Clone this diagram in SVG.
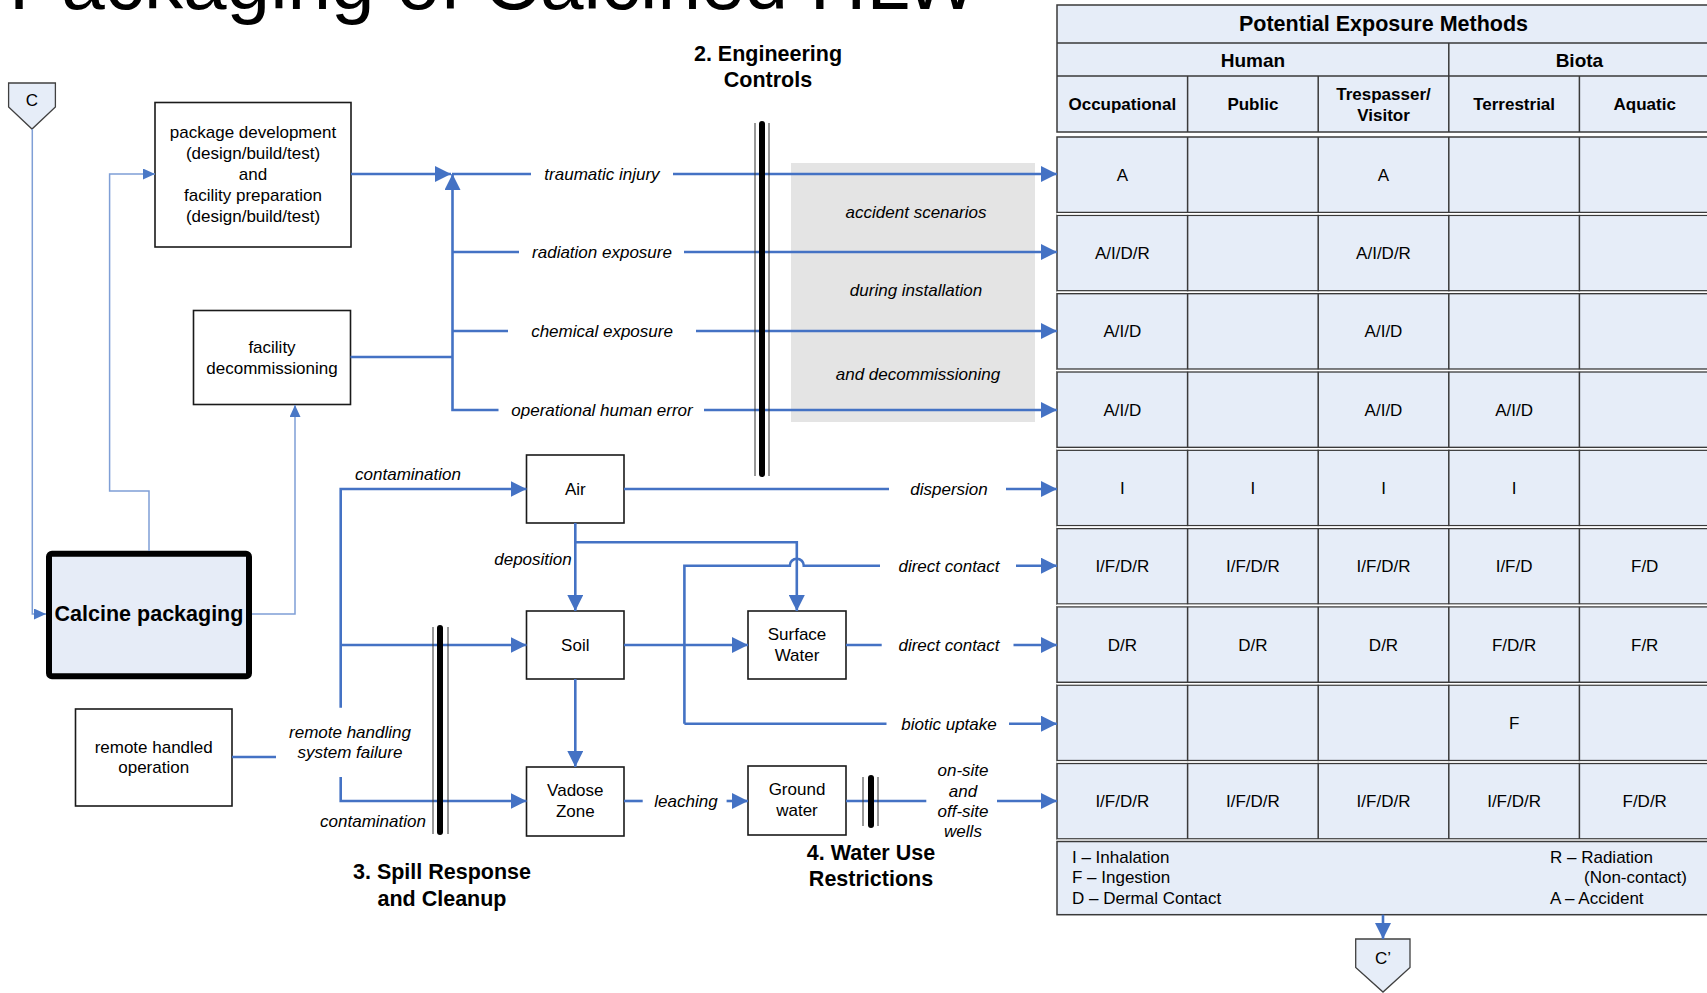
<svg xmlns="http://www.w3.org/2000/svg" width="1707" height="993" viewBox="0 0 1707 993">
  <style>
    text { font-family: "Liberation Sans", Arial, sans-serif; fill: #000; }
    .t { font-size: 17px; text-anchor: middle; }
    .i { font-style: italic; }
    .b { font-weight: bold; }
    .h { font-size: 21.5px; font-weight: bold; text-anchor: middle; }
    .box { fill: #fff; stroke: #1a1a1a; stroke-width: 1.6; }
    .cell { fill: #E6EDF8; stroke: #3a3a3a; stroke-width: 1.5; }
    .grid { fill: none; stroke: #3a3a3a; stroke-width: 1.5; }
    .flow { fill: none; stroke: #4472C4; stroke-width: 2.6; }
    .feed { fill: none; stroke: #7F9FD6; stroke-width: 1.5; }
    .bar { stroke: #000; stroke-width: 6; stroke-linecap: round; }
    .rail { stroke: #333; stroke-width: 1; }
    .conn { fill: #E6EDF8; stroke: #404040; stroke-width: 1.3; }
  </style>
  <defs>
    <marker id="ah" viewBox="0 0 16 16" refX="16" refY="8" markerWidth="16" markerHeight="16" markerUnits="userSpaceOnUse" orient="auto">
      <path d="M0,0L16,8L0,16z" fill="#4472C4"/>
    </marker>
    <marker id="ahs" viewBox="0 0 12 11" refX="12" refY="5.5" markerWidth="12" markerHeight="11" markerUnits="userSpaceOnUse" orient="auto">
      <path d="M0,0L12,5.5L0,11z" fill="#4A78C6"/>
    </marker>
  </defs>

  <rect width="1707" height="993" fill="#fff"/>

  <!-- page title, clipped by the top edge -->
  <text x="9" y="9" font-size="78.3">Packaging of Calcined HLW</text>

  <!-- shaded band for accident scenarios -->
  <rect x="791" y="163" width="244" height="259" fill="#E4E4E4"/>

  <!-- exposure table -->
  <g id="exposure-table">
    <rect class="cell" x="1057" y="5" width="653" height="127"/>
    <path class="grid" d="M1057 43H1710M1057 76H1710M1448.8 43V132M1187.6 76V132M1318.2 76V132M1579.4 76V132"/>
    <text class="h" x="1383.5" y="31">Potential Exposure Methods</text>
    <text class="b" font-size="19" text-anchor="middle" x="1253" y="66.5">Human</text>
    <text class="b" font-size="19" text-anchor="middle" x="1579.4" y="66.5">Biota</text>
    <g class="t b">
      <text x="1122.3" y="110">Occupational</text>
      <text x="1252.9" y="110">Public</text>
      <text x="1383.5" y="100">Trespasser/</text>
      <text x="1383.5" y="120.5">Visitor</text>
      <text x="1514.1" y="110">Terrestrial</text>
      <text x="1644.7" y="110">Aquatic</text>
    </g>

    <g id="rows">
      <rect class="cell" x="1057" y="137" width="653" height="75.5"/>
      <rect class="cell" x="1057" y="215.3" width="653" height="75.5"/>
      <rect class="cell" x="1057" y="293.6" width="653" height="75.5"/>
      <rect class="cell" x="1057" y="371.9" width="653" height="75.5"/>
      <rect class="cell" x="1057" y="450.2" width="653" height="75.5"/>
      <rect class="cell" x="1057" y="528.5" width="653" height="75.5"/>
      <rect class="cell" x="1057" y="606.8" width="653" height="75.5"/>
      <rect class="cell" x="1057" y="685.1" width="653" height="75.5"/>
      <rect class="cell" x="1057" y="763.4" width="653" height="75.5"/>
      <path class="grid" d="M1187.6 137V838.9M1318.2 137V838.9M1448.8 137V838.9M1579.4 137V838.9"/>
      <path d="M1057 213.9H1710M1057 292.2H1710M1057 370.5H1710M1057 448.8H1710M1057 527.1H1710M1057 605.4H1710M1057 683.7H1710M1057 762H1710M1057 840.2H1710" stroke="#fff" stroke-width="1.6"/>
    </g>

    <g class="t">
      <text x="1122.3" y="180.8">A</text>
      <text x="1383.5" y="180.8">A</text>

      <text x="1122.3" y="259.1">A/I/D/R</text>
      <text x="1383.5" y="259.1">A/I/D/R</text>

      <text x="1122.3" y="337.4">A/I/D</text>
      <text x="1383.5" y="337.4">A/I/D</text>

      <text x="1122.3" y="415.7">A/I/D</text>
      <text x="1383.5" y="415.7">A/I/D</text>
      <text x="1514.1" y="415.7">A/I/D</text>

      <text x="1122.3" y="494">I</text>
      <text x="1252.9" y="494">I</text>
      <text x="1383.5" y="494">I</text>
      <text x="1514.1" y="494">I</text>

      <text x="1122.3" y="572.3">I/F/D/R</text>
      <text x="1252.9" y="572.3">I/F/D/R</text>
      <text x="1383.5" y="572.3">I/F/D/R</text>
      <text x="1514.1" y="572.3">I/F/D</text>
      <text x="1644.7" y="572.3">F/D</text>

      <text x="1122.3" y="650.6">D/R</text>
      <text x="1252.9" y="650.6">D/R</text>
      <text x="1383.5" y="650.6">D/R</text>
      <text x="1514.1" y="650.6">F/D/R</text>
      <text x="1644.7" y="650.6">F/R</text>

      <text x="1514.1" y="728.9">F</text>

      <text x="1122.3" y="807.2">I/F/D/R</text>
      <text x="1252.9" y="807.2">I/F/D/R</text>
      <text x="1383.5" y="807.2">I/F/D/R</text>
      <text x="1514.1" y="807.2">I/F/D/R</text>
      <text x="1644.7" y="807.2">F/D/R</text>
    </g>

    <g id="legend">
      <rect class="cell" x="1057" y="841.5" width="653" height="73.2"/>
      <g font-size="17">
        <text x="1072" y="863">I – Inhalation</text>
        <text x="1072" y="883">F – Ingestion</text>
        <text x="1072" y="904">D – Dermal Contact</text>
        <text x="1550" y="863">R – Radiation</text>
        <text x="1584" y="883">(Non-contact)</text>
        <text x="1550" y="904">A – Accident</text>
      </g>
    </g>
  </g>

  <!-- off-page connectors -->
  <g id="node-c">
    <path class="conn" d="M8.6 83H55.4V107L32 129L8.6 107Z"/>
    <text class="t" font-size="16" x="32" y="106">C</text>
  </g>
  <g id="node-c-prime">
    <path class="conn" d="M1355.7 939H1410V967.5L1383 992L1355.7 967.5Z"/>
    <text class="t" font-size="16" x="1383" y="964">C’</text>
  </g>

  <!-- process nodes -->
  <g id="node-package-development">
    <rect class="box" x="155" y="102.5" width="196" height="144.5"/>
    <g class="t">
      <text x="253" y="138">package development</text>
      <text x="253" y="158.5">(design/build/test)</text>
      <text x="253" y="180">and</text>
      <text x="253" y="201">facility preparation</text>
      <text x="253" y="222">(design/build/test)</text>
    </g>
  </g>
  <g id="node-facility-decommissioning">
    <rect class="box" x="193.5" y="310.5" width="157" height="94"/>
    <text class="t" x="272" y="353">facility</text>
    <text class="t" x="272" y="373.5">decommissioning</text>
  </g>
  <g id="node-calcine-packaging">
    <rect x="49" y="553.7" width="200" height="122.5" rx="3" fill="#E6ECF7" stroke="#000" stroke-width="6"/>
    <text class="b" font-size="21.5" text-anchor="middle" x="149" y="621">Calcine packaging</text>
  </g>
  <g id="node-remote-handled">
    <rect class="box" x="75.5" y="709" width="156.5" height="97"/>
    <text class="t" x="153.7" y="753">remote handled</text>
    <text class="t" x="153.7" y="773">operation</text>
  </g>
  <g id="node-air">
    <rect class="box" x="526.5" y="455" width="97.5" height="68"/>
    <text class="t" x="575.3" y="495">Air</text>
  </g>
  <g id="node-soil">
    <rect class="box" x="526.5" y="611" width="97.5" height="68"/>
    <text class="t" x="575.3" y="651">Soil</text>
  </g>
  <g id="node-vadose-zone">
    <rect class="box" x="526.5" y="767" width="97.5" height="69"/>
    <text class="t" x="575.3" y="796">Vadose</text>
    <text class="t" x="575.3" y="817">Zone</text>
  </g>
  <g id="node-surface-water">
    <rect class="box" x="748" y="611" width="98" height="68"/>
    <text class="t" x="797" y="640">Surface</text>
    <text class="t" x="797" y="661">Water</text>
  </g>
  <g id="node-ground-water">
    <rect class="box" x="748" y="766" width="98" height="69"/>
    <text class="t" x="797" y="795">Ground</text>
    <text class="t" x="797" y="816">water</text>
  </g>

  <!-- connectors -->
  <g id="connectors">
    <!-- feeds around the packaging step -->
    <path class="feed" d="M32.3 129V614H46" marker-end="url(#ahs)"/>
    <path class="feed" d="M149 551V491H109.6V174H155" marker-end="url(#ahs)"/>
    <path class="feed" d="M252 614H295V405" marker-end="url(#ahs)"/>

    <!-- sources to the collector trunk -->
    <path class="flow" d="M351 174H451" marker-end="url(#ah)"/>
    <path class="flow" d="M498.5 410H452.5V174" marker-end="url(#ah)"/>
    <path class="flow" d="M452.5 252H519M452.5 331H508"/>
    <path class="flow" stroke-width="3.4" d="M350.5 357H452.5"/>

    <!-- accident pathways into the table -->
    <path class="flow" d="M452 174H531"/>
    <path class="flow" d="M673 174H1057" marker-end="url(#ah)"/>
    <path class="flow" d="M684 252H1057" marker-end="url(#ah)"/>
    <path class="flow" d="M696 331H1057" marker-end="url(#ah)"/>
    <path class="flow" d="M704 410H1057" marker-end="url(#ah)"/>

    <!-- releases from remote handling failure -->
    <path class="flow" d="M232 757H276"/>
    <path class="flow" d="M340.7 707.7V489H526.5" marker-end="url(#ah)"/>
    <path class="flow" d="M340.7 645H526.5" marker-end="url(#ah)"/>
    <path class="flow" d="M340.7 777V801H526.5" marker-end="url(#ah)"/>

    <!-- environmental transport -->
    <path class="flow" d="M624 489H889"/>
    <path class="flow" d="M1006 489H1057" marker-end="url(#ah)"/>
    <path class="flow" d="M575.3 523V611" marker-end="url(#ah)"/>
    <path class="flow" d="M575.3 542.3H796.8V611" marker-end="url(#ah)"/>
    <path class="flow" d="M684.4 723.7V565.7H789.8A7 7 0 0 1 803.8 565.7H880"/>
    <path class="flow" d="M1016 565.7H1057" marker-end="url(#ah)"/>
    <path class="flow" d="M624 645H748" marker-end="url(#ah)"/>
    <path class="flow" d="M846 645H881.7"/>
    <path class="flow" d="M1013.5 645H1057" marker-end="url(#ah)"/>
    <path class="flow" d="M684.4 723.7H886.5"/>
    <path class="flow" d="M1009 723.7H1057" marker-end="url(#ah)"/>
    <path class="flow" d="M575.3 679V767" marker-end="url(#ah)"/>
    <path class="flow" d="M624 801H642.7"/>
    <path class="flow" d="M726.6 801H748" marker-end="url(#ah)"/>
    <path class="flow" d="M846 801H926.3"/>
    <path class="flow" d="M997 801H1057" marker-end="url(#ah)"/>

    <!-- table output to next page -->
    <path class="flow" stroke-width="2.2" d="M1383 914.7V939" marker-end="url(#ah)"/>
  </g>

  <!-- control barriers -->
  <g id="barrier-engineering">
    <line class="rail" x1="755" y1="123" x2="755" y2="476"/>
    <line class="rail" x1="769" y1="123" x2="769" y2="476"/>
    <line class="bar" x1="762" y1="124" x2="762" y2="474"/>
  </g>
  <g id="barrier-spill">
    <line class="rail" x1="433" y1="627" x2="433" y2="834"/>
    <line class="rail" x1="448" y1="627" x2="448" y2="834"/>
    <line class="bar" x1="440" y1="628" x2="440" y2="832"/>
  </g>
  <g id="barrier-water-use">
    <line class="rail" x1="863" y1="777" x2="863" y2="826"/>
    <line class="rail" x1="878" y1="777" x2="878" y2="826"/>
    <line class="bar" x1="871" y1="778" x2="871" y2="825"/>
  </g>

  <!-- connector labels -->
  <g class="t i">
    <text x="602" y="180">traumatic injury</text>
    <text x="602" y="258">radiation exposure</text>
    <text x="602" y="337">chemical exposure</text>
    <text x="602" y="416">operational human error</text>
    <text x="916" y="218">accident scenarios</text>
    <text x="916" y="296">during installation</text>
    <text x="918" y="380">and decommissioning</text>
    <text x="408" y="480">contamination</text>
    <text x="533" y="565">deposition</text>
    <text x="949" y="495">dispersion</text>
    <text x="949" y="571.7">direct contact</text>
    <text x="949" y="651">direct contact</text>
    <text x="949" y="729.7">biotic uptake</text>
    <text x="686" y="807">leaching</text>
    <text x="963" y="776">on-site</text>
    <text x="963" y="796.7">and</text>
    <text x="963" y="817">off-site</text>
    <text x="963" y="837">wells</text>
    <text x="350" y="738">remote handling</text>
    <text x="350" y="758">system failure</text>
    <text x="373" y="826.7">contamination</text>
  </g>

  <!-- control headings -->
  <text class="h" x="768" y="60.5">2. Engineering</text>
  <text class="h" x="768" y="86.5">Controls</text>
  <text class="h" x="442" y="878.5">3. Spill Response</text>
  <text class="h" x="442" y="905.5">and Cleanup</text>
  <text class="h" x="871" y="860">4. Water Use</text>
  <text class="h" x="871" y="886">Restrictions</text>
</svg>
